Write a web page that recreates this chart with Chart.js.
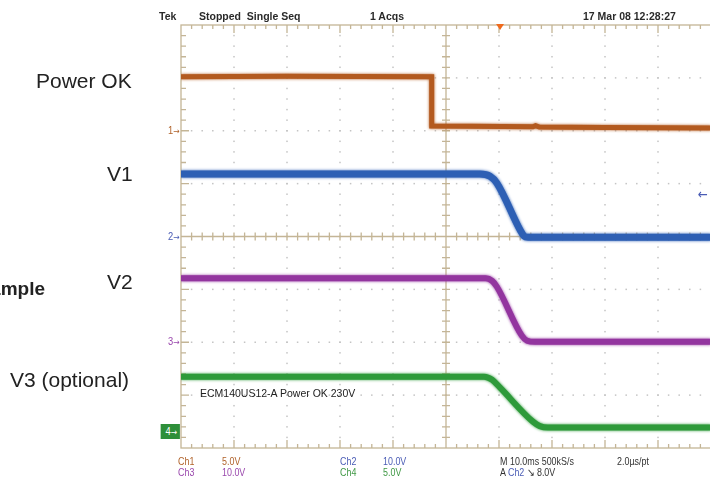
<!DOCTYPE html>
<html>
<head>
<meta charset="utf-8">
<script src="https://cdn.jsdelivr.net/npm/chart.js@4.4.1/dist/chart.umd.min.js"></script>
<style>
body { margin: 0; background: #fff; overflow: hidden; }
#wrap { position: relative; width: 710px; height: 488px; overflow: hidden; font-family: "Liberation Sans", Arial, sans-serif; }
#scope { position: absolute; left: 0; top: 0; }
.lbl { position: absolute; font-size: 21px; line-height: 1; color: #222; white-space: nowrap; }
.hdr { position: absolute; top: 11px; font-size: 10.5px; font-weight: bold; line-height: 1; color: #2a2a2a; white-space: nowrap; }
.ftr { position: absolute; font-size: 10.5px; line-height: 1; white-space: nowrap; transform: scaleX(0.85); transform-origin: 0 0; }
.mk { position: absolute; font-size: 11px; line-height: 1; white-space: nowrap; transform: scaleX(0.85); transform-origin: 100% 0; }
.mk .ar { font-family: "DejaVu Sans", sans-serif; font-size: 9px; }
.mk4 { background: #2e8f3a; color: #fff !important; padding: 2px 3px 2px 6px; }
</style>
</head>
<body>
<div id="wrap">
  <canvas id="scope" width="712" height="488"></canvas>

  <div class="lbl" style="left:36px; top:70px;">Power OK</div>
  <div class="lbl" style="left:107px; top:163px;">V1</div>
  <div class="lbl" style="right:665px; top:279px; font-size:19px; font-weight:bold;">Example</div>
  <div class="lbl" style="left:107px; top:271px;">V2</div>
  <div class="lbl" style="left:10px; top:369px;">V3 (optional)</div>

  <div class="hdr" style="left:159px;">Tek</div>
  <div class="hdr" style="left:199px;">Stopped&nbsp; Single Seq</div>
  <div class="hdr" style="left:370px;">1 Acqs</div>
  <div class="hdr" style="left:583px;">17 Mar 08 12:28:27</div>

  <div class="ftr" style="left:200px; top:388px; font-size:10.5px; color:#222; transform:none;">ECM140US12-A Power OK 230V</div>

  <div class="ftr" style="left:178px; top:456px; color:#b0622a;">Ch1</div>
  <div class="ftr" style="left:222px; top:456px; color:#b0622a;">5.0V</div>
  <div class="ftr" style="left:340px; top:456px; color:#4a5cb5;">Ch2</div>
  <div class="ftr" style="left:383px; top:456px; color:#4a5cb5;">10.0V</div>
  <div class="ftr" style="left:178px; top:467px; color:#9a48ad;">Ch3</div>
  <div class="ftr" style="left:222px; top:467px; color:#9a48ad;">10.0V</div>
  <div class="ftr" style="left:340px; top:467px; color:#3f9844;">Ch4</div>
  <div class="ftr" style="left:383px; top:467px; color:#3f9844;">5.0V</div>
  <div class="ftr" style="left:500px; top:456px; color:#333;">M 10.0ms 500kS/s</div>
  <div class="ftr" style="left:617px; top:456px; color:#333;">2.0µs/pt</div>
  <div class="ftr" style="left:500px; top:467px; color:#333;">A <span style="color:#4a5cb5;">Ch2</span> &#8600; 8.0V</div>

  <div id="markers"></div>
</div>

<script>
// Tiempo en ms (10 ms/div), tensiones en V
const powerOkTime  = [0, 20, 47.3, 47.3, 55, 66.4, 66.9, 67.6, 80, 100];
const powerOkVolts = [5.1, 5.15, 5.1, 0.45, 0.42, 0.38, 0.48, 0.35, 0.3, 0.25];

const v1Time  = [0, 56.4, 58.3, 59.6, 64.0, 64.7, 65.5, 100];
const v1Volts = [11.8, 11.8, 11.4, 10.1, 1.2, 0.1, -0.15, -0.15];

const v2Time  = [0, 57.5, 58.7, 59.6, 64.3, 65.3, 66.8, 100];
const v2Volts = [12.1, 12.1, 11.6, 10.5, 1.25, 0.3, 0.1, 0.1];

const v3Time  = [0, 57.2, 58.7, 60.2, 66.4, 67.7, 69.2, 100];
const v3Volts = [5.19, 5.19, 4.9, 4.15, 0.94, 0.52, 0.38, 0.38];

// Ajustes del osciloscopio por canal
const channelNames  = ['Power OK', 'V1', 'V2', 'V3 (optional)'];
const voltsPerDiv   = [5, 10, 10, 5];
const channelOffset = [2, 0, -2, -3.69];   // en divisiones
const channelColors = ['#b35a1f', '#2d5fb4', '#93359f', '#2e9a3a'];
const markerColors  = ['#b0622a', '#4a5cb5', '#9a48ad', '#3f9844'];
const traceWidths   = [5, 7, 6, 6];

const triggerTime = 60.2;   // ms
const triggerLevel = 8.0;   // V en Ch2

const traces = [
    [powerOkTime, powerOkVolts],
    [v1Time, v1Volts],
    [v2Time, v2Volts],
    [v3Time, v3Volts]
];

function toDivs(ch) {
    const [t, v] = traces[ch];
    return t.map((ti, i) => ({ x: ti, y: channelOffset[ch] + v[i] / voltsPerDiv[ch] }));
}

// Reticula del osciloscopio
const graticule = {
    id: 'graticule',
    beforeDatasetsDraw(chart) {
        const { ctx, chartArea: a, scales: { x, y } } = chart;
        ctx.save();

        // lineas punteadas
        ctx.fillStyle = '#c4c4c4';
        for (let i = 1; i < 10; i++) {
            if (i === 5) continue;
            const px = x.getPixelForValue(i * 10);
            for (let k = 1; k < 40; k++) {
                const py = y.getPixelForValue(-4 + k * 0.2);
                ctx.fillRect(px - 0.75, py - 0.75, 1.5, 1.5);
            }
        }
        for (let j = -3; j <= 3; j++) {
            if (j === 0) continue;
            const py = y.getPixelForValue(j);
            for (let k = 1; k < 50; k++) {
                const px = x.getPixelForValue(k * 2);
                ctx.fillRect(px - 0.75, py - 0.75, 1.5, 1.5);
            }
        }

        ctx.strokeStyle = '#c4b596';
        ctx.lineWidth = 1.3;
        ctx.strokeRect(a.left, a.top, a.right - a.left, a.bottom - a.top);

        const cx = x.getPixelForValue(50);
        const cy = y.getPixelForValue(0);
        ctx.beginPath();
        ctx.moveTo(cx, a.top); ctx.lineTo(cx, a.bottom);
        ctx.moveTo(a.left, cy); ctx.lineTo(a.right, cy);

        // marcas menores cada 0.2 div
        for (let k = 1; k < 50; k++) {
            const px = x.getPixelForValue(k * 2);
            const major = k % 5 === 0;
            ctx.moveTo(px, a.top); ctx.lineTo(px, a.top + (major ? 8 : 4));
            ctx.moveTo(px, a.bottom); ctx.lineTo(px, a.bottom - (major ? 8 : 4));
            ctx.moveTo(px, cy - 4); ctx.lineTo(px, cy + 4);
        }
        for (let k = 1; k < 40; k++) {
            const py = y.getPixelForValue(-4 + k * 0.2);
            const major = k % 5 === 0;
            ctx.moveTo(a.left, py); ctx.lineTo(a.left + (major ? 8 : 5), py);
            ctx.moveTo(cx - 4, py); ctx.lineTo(cx + 4, py);
        }
        ctx.stroke();
        ctx.restore();
    },
    // bordes difusos de la traza, como el ruido del osciloscopio
    beforeDatasetDraw(chart, args) {
        const c = chart.ctx;
        c.save();
        c.shadowColor = channelColors[args.index];
        c.shadowBlur = 3;
    },
    afterDatasetDraw(chart) {
        chart.ctx.restore();
    },
    afterDatasetsDraw(chart) {
        const { ctx, chartArea: a, scales: { x } } = chart;
        const tx = x.getPixelForValue(triggerTime);
        ctx.save();
        ctx.fillStyle = '#f06a1c';
        ctx.beginPath();
        ctx.moveTo(tx - 4, a.top - 1);
        ctx.lineTo(tx + 4, a.top - 1);
        ctx.lineTo(tx, a.top + 5);
        ctx.closePath();
        ctx.fill();
        ctx.restore();
    }
};

const ctx = document.getElementById('scope').getContext('2d');
const scopeChart = new Chart(ctx, {
    type: 'line',
    data: {
        datasets: channelNames.map((name, ch) => ({
            label: name,
            data: toDivs(ch),
            borderColor: channelColors[ch],
            borderWidth: traceWidths[ch],
            pointRadius: 0,
            fill: false,
            borderCapStyle: 'butt',
            cubicInterpolationMode: ch === 0 ? 'default' : 'monotone'
        }))
    },
    options: {
        responsive: false,
        animation: false,
        layout: { padding: { left: 181, top: 25, right: 1, bottom: 40 } },
        plugins: {
            legend: { display: false },
            tooltip: { enabled: false }
        },
        scales: {
            x: { type: 'linear', min: 0, max: 100, display: false },
            y: { type: 'linear', min: -4, max: 4, display: false }
        }
    },
    plugins: [graticule]
});

// Marcadores de canal y de disparo
const markers = document.getElementById('markers');
const yScale = scopeChart.scales.y;
const area = scopeChart.chartArea;
channelOffset.forEach((pos, ch) => {
    const el = document.createElement('div');
    el.className = 'mk' + (ch === 3 ? ' mk4' : '');
    el.innerHTML = (ch + 1) + '<span class="ar">\u2192</span>';
    el.style.color = markerColors[ch];
    el.style.right = (710 - area.left + 1) + 'px';
    el.style.top = (yScale.getPixelForValue(pos) - (ch === 3 ? 8 : 6)) + 'px';
    markers.appendChild(el);
});
const trig = document.createElement('div');
trig.className = 'mk';
trig.innerHTML = '<span class="ar" style="font-size:14px;">\u2190</span>';
trig.style.color = markerColors[1];
trig.style.left = '696px';
trig.style.top = (yScale.getPixelForValue(triggerLevel / voltsPerDiv[1] + channelOffset[1]) - 7) + 'px';
markers.appendChild(trig);
</script>
</body>
</html>
